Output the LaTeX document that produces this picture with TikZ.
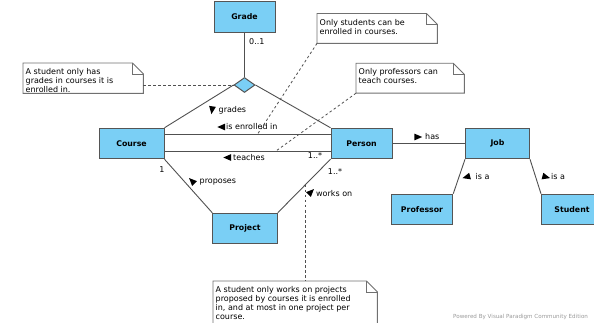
\documentclass[tikz,border=0pt]{standalone}
\usepackage{fontspec}
\setmainfont{DejaVu Sans}
\usetikzlibrary{shapes.geometric,calc}

\definecolor{classfill}{HTML}{7ACFF5}
\definecolor{boxline}{HTML}{555555}
\definecolor{edgeline}{HTML}{505050}
\definecolor{noteline}{HTML}{707070}
\definecolor{credit}{HTML}{9A9A9A}

% outline of a UML note with a folded top-right corner
\newcommand\drawfoldednote[1]{%
  \draw[noteborder] (#1.north west) -- ([xshift=-11pt]#1.north east)
    -- ([yshift=-11pt]#1.north east) -- (#1.south east) -- (#1.south west) -- cycle;
  \draw[noteborder] ([xshift=-11pt]#1.north east) |- ([yshift=-11pt]#1.north east);}

\begin{document}
\begin{tikzpicture}[x=1pt,y=-1pt,
  basefont/.style={font=\fontsize{8}{9}\selectfont},
  classbox/.style={draw=boxline, fill=classfill, line width=1pt, inner sep=0pt,
    minimum height=30.5pt, font=\fontsize{7.8}{9}\selectfont\bfseries},
  assocdia/.style={diamond, draw=boxline, fill=classfill, line width=1pt, inner sep=0pt,
    minimum width=21pt, minimum height=15pt},
  assoc/.style={draw=edgeline, line width=0.9pt},
  noteanchor/.style={fill=white, draw=none, inner sep=0pt, anchor=north west},
  noteborder/.style={draw=noteline, line width=0.9pt},
  notetext/.style={basefont, align=left, anchor=north west, inner xsep=2.5pt, inner ysep=5.3pt},
  noteconn/.style={draw=edgeline, line width=0.8pt, dash pattern=on 2.5pt off 2.5pt},
  lbl/.style={basefont, inner sep=0pt, text=black},
  % filled direction triangle; the argument is the heading in degrees
  % (y runs downwards here, so polar angles are negated)
  pics/dirtri/.style={code={\fill[black] (-#1:4.2) -- (-#1+137:5) -- (-#1-137:5) -- cycle;}},
]
\useasboundingbox (0,0) rectangle (594,323);
\clip (0,0) rectangle (594,323);

% classes
\node[classbox, minimum width=61pt]   (grade)     at (244.5,17)    {Grade};
\node[classbox, minimum width=65pt]   (course)    at (131.5,143.5) {Course};
\node[classbox, minimum width=61pt]   (person)    at (361.5,143.5) {Person};
\node[classbox, minimum width=64pt]   (job)       at (497.5,143.5) {Job};
\node[classbox, minimum width=64.5pt] (project)   at (245,228.5)   {Project};
\node[classbox, minimum width=61.5pt] (professor) at (422,209.5)   {Professor};
\node[classbox, minimum width=61pt]   (student)   at (572,209.5)   {Student};

% ternary association diamond
\node[assocdia] (dia) at (244.5,85) {};

% associations
\draw[assoc] (grade.south) -- (dia.north);
\draw[assoc] (dia.west) -- (course.north east);
\draw[assoc] (dia.east) -- (person.north west);
\draw[assoc] ([yshift=-7pt]course.north east) -- ([yshift=-7pt]person.north west);
\draw[assoc] ([yshift=8pt]course.south east) -- ([yshift=8pt]person.south west);
\draw[assoc] (person) -- (job);
\draw[assoc] (course.south east) -- (project.north west);
\draw[assoc] (person.south west) -- (project.north east);
\draw[assoc] (job.south west) -- (professor.north east);
\draw[assoc] (job.south east) -- (student.north west);

% notes
\node[noteanchor, minimum width=120pt, minimum height=30pt] (n1) at (23,63) {};
\drawfoldednote{n1}
\node[notetext] (n1t) at (n1.north west) {A student only has\\grades in courses it is\\enrolled in.};

\node[noteanchor, minimum width=120pt, minimum height=29.5pt] (n2) at (317,13.5) {};
\drawfoldednote{n2}
\node[notetext] (n2t) at (n2.north west) {Only students can be\\enrolled in courses.};

\node[noteanchor, minimum width=108pt, minimum height=29.5pt] (n3) at (356,63.3) {};
\drawfoldednote{n3}
\node[notetext] (n3t) at (n3.north west) {Only professors can\\teach courses.};

\node[noteanchor, minimum width=164pt, minimum height=46pt] (n4) at (213,281) {};
\drawfoldednote{n4}
\node[notetext] (n4t) at (n4.north west) {A student only works on projects\\proposed by courses it is enrolled\\in, and at most in one project per\\course.};

% note attachments
\coordinate (enrolledpt) at (257,135);
\coordinate (teachespt) at (276,151);
\coordinate (workspt) at (305.3,185);
\draw[noteconn] (n1.east |- dia.west) -- (dia.west);
\draw[noteconn] (n2.south west) -- (enrolledpt);
\draw[noteconn] (n3.south west) -- (teachespt);
\draw[noteconn] (workspt) -- (workspt |- n4.north);

% association names with direction arrows
\pic at (212,110) {dirtri=262};
\node[lbl, anchor=west] (lgrades) at (218.5,110) {grades};
\pic at (221.5,127) {dirtri=180};
\node[lbl, anchor=west] (lenrolled) at (226,127) {is enrolled in};
\pic at (227.5,157.5) {dirtri=180};
\node[lbl, anchor=west] (lteaches) at (233,157.5) {teaches};
\pic at (192,181) {dirtri=135};
\node[lbl, anchor=west] (lproposes) at (199.5,182) {proposes};
\pic at (311,192) {dirtri=45};
\node[lbl, anchor=west] (lworks) at (316,194) {works on};
\pic at (418,137) {dirtri=0};
\node[lbl, anchor=west] (lhas) at (425,137) {has};
\pic at (466.5,177) {dirtri=195};
\node[lbl, anchor=west] (lisa1) at (475.5,177) {is a};
\pic at (546,177) {dirtri=-15};
\node[lbl, anchor=west] (lisa2) at (551,177) {is a};

% multiplicities
\node[lbl, anchor=west] (m01) at (249,42) {0..1};
\node[lbl] (m1) at (162,170) {1};
\node[lbl] (mteach) at (315,156) {1..*};
\node[lbl] (mworks) at (335,172) {1..*};

% tool credit
\node[inner sep=0pt, anchor=west, text=credit, font=\fontsize{5.6}{6}\selectfont] (credit) at (453,317) {Powered By Visual Paradigm Community Edition};
\end{tikzpicture}
\end{document}
